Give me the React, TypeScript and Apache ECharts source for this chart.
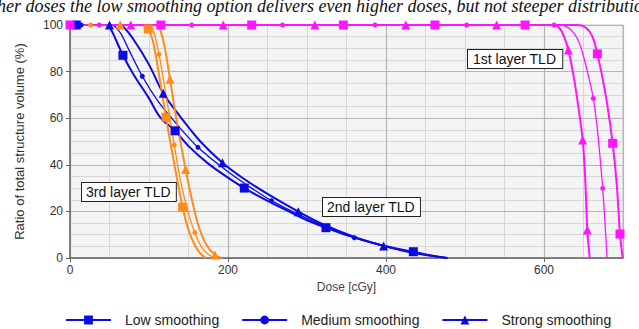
import React, { useEffect, useRef } from "react";
import * as echarts from "echarts";

const seriesNames = ["Low smoothing", "Medium smoothing", "Strong smoothing"];
const layerLabels = ["1st layer TLD", "2nd layer TLD", "3rd layer TLD"];
const caption =
  "her doses the low smoothing option delivers even higher doses, but not steeper distributio";

// 2nd layer TLD (blue)
const blueLowCurve = [[0, 100], [46, 100], [50, 99], [55, 96], [80, 79], [100, 68.5], [114, 60.5], [150, 48], [175, 40.5], [200, 34.5], [250, 24.5], [280, 19.5], [300, 16.2], [350, 9.8], [380, 6.8], [410, 4.3], [455, 1.2], [477, 0]];
const blueLowMarks = [[8, 100], [67, 87], [133, 54.6], [220.6, 30], [324, 13], [434.6, 2.7]];
const blueMedCurve = [[0, 100], [54, 100], [58, 99], [65, 96], [75, 89], [110, 68], [128.7, 60], [200, 37], [230, 30], [290, 18.5], [320, 14], [400, 4.8], [440, 2], [478, 0]];
const blueMedMarks = [[14, 100], [91.5, 78], [162, 47.5], [255, 24.6], [360, 8.7]];
const blueStrCurve = [[0, 100], [62, 100], [68, 99], [80, 94], [100, 83], [140, 60.5], [165, 50], [220, 34], [250, 27.5], [320, 14.5], [360, 9], [430, 2.5], [460, 0.8], [478, 0]];
const blueStrMarks = [[50, 100], [118, 70.7], [193, 40.9], [289, 19.9], [397, 5.2]];

// 3rd layer TLD (orange)
const orangeLowCurve = [[0, 100], [88, 100], [95, 99.5], [105, 93], [112, 80], [130, 44], [150, 12], [158, 5.5], [165, 2], [172, 0]];
const orangeLowMarks = [[99, 98.3], [121.5, 60.4], [142.6, 21.8]];
const orangeMedCurve = [[0, 100], [100, 100], [106, 97], [120, 73], [140, 33], [150, 19], [166, 5], [174, 1.8], [183, 0]];
const orangeMedMarks = [[26, 100], [112.7, 87.4], [132, 48.5], [158, 10.9]];
const orangeStrCurve = [[0, 100], [108, 100], [114, 98], [120, 90], [134, 61], [155, 24], [163, 13.5], [172, 6], [192, 0]];
const orangeStrMarks = [[63.5, 100], [126.6, 76.7], [146.4, 38], [183.5, 1.3]];

// 1st layer TLD (magenta)
const magentaLowCurve = [[0, 100], [640, 100], [650, 99.5], [658, 97], [663, 93.5], [673, 79], [680, 66], [692, 32], [698.5, 3], [699.8, 0]];
const magentaLowMarks = [[0, 100], [115, 100], [230, 100], [346, 100], [462, 100], [576, 100], [667.5, 87.6], [686.9, 49.2], [696.2, 10.3]];
const magentaMedCurve = [[0, 100], [620, 100], [630, 99], [638, 96.5], [645, 92], [652, 84], [657, 77], [667, 57], [671, 43], [677, 16], [679, 5], [679.8, 0]];
const magentaMedMarks = [[37, 100], [154, 100], [269, 100], [386, 100], [502, 100], [612.7, 100], [662.4, 68.5], [674.3, 29.9]];
const magentaStrCurve = [[0, 100], [612, 100], [620, 98.5], [626, 94.5], [637, 79], [643, 66], [652, 35], [656.5, 5], [657.8, 0]];
const magentaStrMarks = [[77, 100], [194, 100], [310, 100], [425, 100], [540, 100], [630.8, 89.3], [649, 50.6], [654.8, 12]];

const BLUE = "#0a0ae6";
const ORANGE = "#ff8c1a";
const MAGENTA = "#ff14ff";

function merge(curve: number[][], marks: number[][]) {
  const pts: any[] = [
    ...curve.map((p) => ({ value: p, symbol: "none" })),
    ...marks.map((p) => ({ value: p })),
  ];
  pts.sort((a, b) => a.value[0] - b.value[0] || b.value[1] - a.value[1]);
  return pts;
}

const kinds = [
  { symbol: "rect", size: 9, width: 2 },
  { symbol: "circle", size: 5, width: 1.3 },
  { symbol: "triangle", size: 9, width: 2 },
];

function mk(nameIdx: number, color: string, curve: number[][], marks: number[][]) {
  const k = kinds[nameIdx];
  return {
    type: "line",
    name: seriesNames[nameIdx],
    xAxisIndex: 1,
    yAxisIndex: 0,
    data: merge(curve, marks),
    smooth: 0.35,
    symbol: k.symbol,
    symbolSize: k.size,
    showAllSymbol: true,
    lineStyle: { color, width: k.width },
    itemStyle: { color },
    emphasis: { disabled: true },
  };
}

export default function App() {
  const ref = useRef<HTMLDivElement>(null);
  useEffect(() => {
    const chart = echarts.init(ref.current!, null, { renderer: "svg" });
    const font = "Liberation Sans";
    chart.setOption({
      animation: false,
      textStyle: { fontFamily: font },
      grid: {
        left: 70,
        right: 16,
        top: 25,
        bottom: 71,
        show: true,
        outerBoundsMode: "none",
        containLabel: false,
        backgroundColor: "#f4f4f4",
        borderColor: "#c4c4c4",
        borderWidth: 1,
      },
      legend: {
        data: seriesNames,
        left: 65,
        top: 313,
        padding: 0,
        itemWidth: 45,
        itemHeight: 11,
        itemGap: 22,
        textStyle: { fontSize: 14, color: "#222", fontFamily: font, padding: [0, 0, 0, 9] },
      },
      xAxis: [
        {
          type: "value",
          position: "bottom",
          min: 0,
          max: 700,
          interval: 50,
          axisLabel: { show: false },
          axisLine: { show: false },
          axisTick: { show: false },
          splitLine: { show: true, lineStyle: { color: "#d6d6d6", width: 1 } },
          z: 0,
        },
        {
          type: "value",
          position: "bottom",
          min: 0,
          max: 700,
          interval: 200,
          name: "Dose [cGy]",
          nameLocation: "middle",
          nameGap: 20,
          nameTextStyle: { fontSize: 12, color: "#444", fontFamily: font },
          axisLabel: { fontSize: 12, color: "#333", margin: 6, showMaxLabel: false, fontFamily: font },
          axisLine: { show: true, lineStyle: { color: "#666", width: 1.5 } },
          axisTick: { show: true, length: 4, lineStyle: { color: "#666" } },
          splitLine: { show: true, lineStyle: { color: "#b4b4b4", width: 1.2 } },
          z: 1,
        },
      ],
      yAxis: [
        {
          type: "value",
          min: 0,
          max: 100,
          interval: 20,
          name: "Ratio of total structure volume (%)",
          nameLocation: "middle",
          nameGap: 44,
          nameTextStyle: { fontSize: 13, color: "#333", fontFamily: font },
          axisLabel: { fontSize: 12, color: "#333", margin: 7, fontFamily: font },
          axisLine: { show: true, lineStyle: { color: "#666", width: 1.5 } },
          axisTick: { show: true, length: 4, lineStyle: { color: "#666" } },
          splitLine: { show: true, lineStyle: { color: "#b4b4b4", width: 1.2 } },
          minorTick: { show: false, splitNumber: 4 },
          minorSplitLine: { show: true, lineStyle: { color: "#d6d6d6", width: 1 } },
          z: 1,
        },
      ],
      graphic: [
        {
          type: "text",
          x: -3,
          y: 6,
          style: {
            text: caption,
            font: 'italic 18px "Liberation Serif"',
            fill: "#111",
            verticalAlign: "middle",
          },
        },
        {
          type: "text",
          x: 468,
          y: 50,
          z: 10,
          style: {
            text: layerLabels[0],
            font: '14px "Liberation Sans"',
            fill: "#111",
            backgroundColor: "#fff",
            borderColor: "#222",
            borderWidth: 1,
            padding: [2, 6, 2, 5],
          },
        },
        {
          type: "text",
          x: 323,
          y: 198,
          z: 10,
          style: {
            text: layerLabels[1],
            font: '14px "Liberation Sans"',
            fill: "#111",
            backgroundColor: "#fff",
            borderColor: "#222",
            borderWidth: 1,
            padding: [2, 5, 2, 4],
          },
        },
        {
          type: "text",
          x: 82,
          y: 183,
          z: 10,
          style: {
            text: layerLabels[2],
            font: '14px "Liberation Sans"',
            fill: "#111",
            backgroundColor: "#fff",
            borderColor: "#222",
            borderWidth: 1,
            padding: [2, 5, 2, 4],
          },
        },
      ],
      series: [
        mk(0, BLUE, blueLowCurve, blueLowMarks),
        mk(1, BLUE, blueMedCurve, blueMedMarks),
        mk(2, BLUE, blueStrCurve, blueStrMarks),
        mk(0, ORANGE, orangeLowCurve, orangeLowMarks),
        mk(1, ORANGE, orangeMedCurve, orangeMedMarks),
        mk(2, ORANGE, orangeStrCurve, orangeStrMarks),
        mk(0, MAGENTA, magentaLowCurve, magentaLowMarks),
        mk(1, MAGENTA, magentaMedCurve, magentaMedMarks),
        mk(2, MAGENTA, magentaStrCurve, magentaStrMarks),
      ],
    });
    return () => chart.dispose();
  }, []);
  return (
    <div
      ref={ref}
      style={{ position: "absolute", left: 0, top: 0, width: 639, height: 329 }}
    />
  );
}
